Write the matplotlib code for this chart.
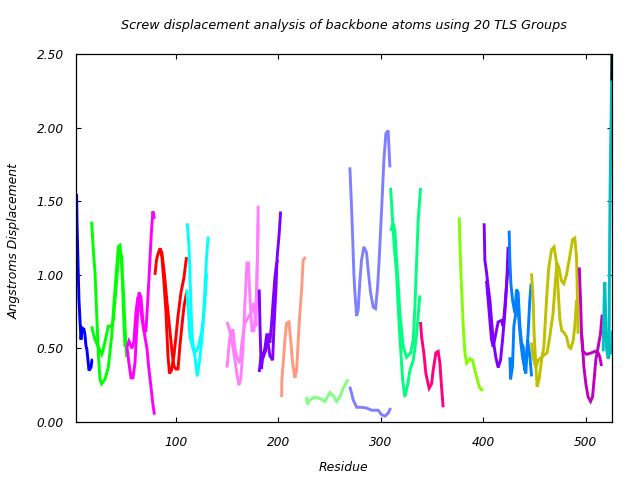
import matplotlib
matplotlib.use("Agg")
import matplotlib.pyplot as plt

# residue / displacement traces, one list pair per strand
blue_res = [3, 3.4, 4.3, 5.3, 6.3, 7.3, 8.2, 10.2, 11.2, 12.1, 13.1, 15.1, 17, 18, 19]
blue_val = [1.55, 1.36, 1.10, 0.83, 0.69, 0.56, 0.64, 0.63, 0.59, 0.52, 0.49, 0.35, 0.37, 0.42, 0.42]

green_res_a = [17.7, 19.3, 21.0, 22.6, 24.2, 25.8, 27.5, 30.7, 33.9, 37.2, 40.5, 43.7, 45.3, 47.0, 48.6, 50.2, 51.9]
green_val_a = [1.36, 1.17, 1.01, 0.74, 0.47, 0.29, 0.26, 0.29, 0.37, 0.58, 0.90, 1.19, 1.20, 1.08, 0.90, 0.65, 0.44]
green_res_b = [17.7, 19.3, 21.0, 24.2, 27.5, 29.0, 32.4, 33.9, 37.2, 38.8, 42.1, 44.7, 47.0, 48.6, 50.2]
green_val_b = [0.65, 0.60, 0.56, 0.51, 0.46, 0.49, 0.60, 0.65, 0.65, 0.69, 0.96, 1.19, 1.12, 0.78, 0.51]

magenta_res_a = [52.2, 54.1, 56.1, 58.0, 60.0, 61.9, 63.9, 65.8, 67.8, 69.7, 71.7, 73.6, 75.6, 77.5, 79.0]
magenta_val_a = [0.51, 0.40, 0.30, 0.30, 0.40, 0.65, 0.88, 0.85, 0.68, 0.58, 0.50, 0.36, 0.24, 0.12, 0.05]
magenta_res_b = [52.2, 54.1, 57.0, 59.0, 61.0, 62.9, 64.9, 66.8, 68.8, 70.7, 72.7, 74.6, 76.1, 77.5, 79.0]
magenta_val_b = [0.51, 0.55, 0.50, 0.55, 0.75, 0.85, 0.82, 0.70, 0.62, 0.62, 0.85, 1.10, 1.30, 1.43, 1.38]

red_res_a = [79.5, 81.0, 82.4, 84.4, 86.3, 88.3, 90.2, 92.2, 93.7, 95.6, 98.0, 100, 102, 104.9, 107.8, 110.3]
red_val_a = [1.00, 1.10, 1.14, 1.18, 1.12, 0.95, 0.75, 0.45, 0.33, 0.35, 0.45, 0.58, 0.72, 0.88, 0.98, 1.12]
red_res_b = [84.4, 86.3, 88.8, 91.2, 94.1, 96.1, 98.0, 100, 102, 103.9, 105.9, 107.8, 110.3]
red_val_b = [1.18, 1.15, 1.00, 0.82, 0.62, 0.48, 0.38, 0.36, 0.36, 0.52, 0.66, 0.78, 0.88]

cyan_res_a = [111.0, 112.7, 113.7, 114.6, 115.6, 117.1, 119.0, 120.8, 122.7, 125.1, 126.6, 128.3, 129.9, 131.5]
cyan_val_a = [1.35, 1.20, 1.00, 0.80, 0.60, 0.50, 0.42, 0.31, 0.40, 0.55, 0.67, 0.90, 1.12, 1.26]
cyan_res_b = [110.4, 112.0, 113.7, 116.9, 119.5, 121.8, 125.1, 128.3, 129.9]
cyan_val_b = [0.90, 0.76, 0.58, 0.49, 0.48, 0.51, 0.61, 0.81, 1.01]

pink_res_a = [149.8, 151.7, 153.7, 155.6, 157.6, 159.5, 161.5, 163.4, 165.4, 167.3, 169.3, 170.8, 172.2,
              174.2, 176.1, 178.1, 179.5, 180.3]
pink_val_a = [0.68, 0.64, 0.58, 0.51, 0.42, 0.33, 0.25, 0.30, 0.50, 0.80, 1.08, 1.08, 0.85,
              0.62, 0.62, 0.75, 1.10, 1.47]
pink_res_b = [149.8, 152.7, 155.6, 157.6, 159.5, 162.5, 164.4, 167.3, 170.3, 173.2, 176.1, 178.1, 180.3]
pink_val_b = [0.37, 0.58, 0.63, 0.50, 0.44, 0.40, 0.54, 0.67, 0.71, 0.74, 0.81, 0.65, 1.35]

purple_res_a = [181.3, 182.0, 182.7, 183.4, 184.9, 186.8, 188.8, 190.3, 191.7, 194.4, 195.6, 197.6, 198.8, 200.8, 202.2]
purple_val_a = [0.90, 0.67, 0.49, 0.36, 0.45, 0.50, 0.60, 0.52, 0.45, 0.42, 0.63, 0.90, 1.12, 1.28, 1.43]
purple_res_b = [181.3, 183.0, 185.2, 187.8, 190.1, 191.7, 193.4, 195.0, 196.6, 198.3, 199.5]
purple_val_b = [0.34, 0.44, 0.44, 0.49, 0.60, 0.54, 0.67, 0.83, 0.98, 1.08, 1.10]

salmon_res = [203.2, 203.4, 204.7, 206.4, 208.0, 210.3, 212.0, 213.9, 216.1, 217.8, 220.3, 222.7, 224.2, 226.6]
salmon_val = [0.17, 0.29, 0.40, 0.56, 0.67, 0.68, 0.56, 0.40, 0.30, 0.35, 0.67, 0.90, 1.10, 1.12]

lgreen_res = [227.6, 228.2, 230.8, 235.7, 240.5, 245.4, 250.3, 253.5, 256.8, 260.1, 263.3, 268.2]
lgreen_val = [0.17, 0.12, 0.15, 0.17, 0.16, 0.14, 0.20, 0.18, 0.14, 0.17, 0.23, 0.29]

peri_res_a = [269.8, 271.5, 272.5, 273.7, 274.7, 276.4, 277.9, 279.6, 281.2, 283.5, 286.1, 287.7, 290.0,
              292.6, 294.9, 296.9, 298.4, 299.8, 301.4, 303.0, 305.0, 307.2, 308.2, 308.9]
peri_val_a = [1.73, 1.45, 1.26, 1.01, 0.88, 0.72, 0.76, 0.96, 1.10, 1.19, 1.15, 1.03, 0.88,
              0.78, 0.77, 0.92, 1.10, 1.30, 1.53, 1.78, 1.96, 1.98, 1.83, 1.73]
peri_res_b = [269.8, 273.1, 276.4, 281.2, 286.1, 291.0, 297.4, 300.8, 304.0, 307.2, 309.6]
peri_val_b = [0.24, 0.15, 0.10, 0.10, 0.095, 0.08, 0.08, 0.05, 0.04, 0.06, 0.095]

spring_res_a = [309.6, 311.5, 313.1, 315.4, 317.0, 318.6, 321.3, 323.5, 325.8, 328.4, 331.7, 333.3, 335.0, 336.5, 338.1]
spring_val_a = [1.59, 1.37, 1.19, 1.01, 0.78, 0.58, 0.29, 0.17, 0.24, 0.35, 0.42, 0.50, 0.60, 0.72, 0.86]
spring_res_b = [309.6, 312.1, 313.8, 315.4, 317.0, 318.6, 321.9, 325.2, 329.1, 331.7, 333.3, 335.0, 336.5, 338.8]
spring_val_b = [1.30, 1.35, 1.30, 1.10, 0.94, 0.74, 0.51, 0.44, 0.47, 0.56, 0.78, 1.10, 1.37, 1.59]

dpink_res = [338.8, 339.8, 342.0, 344.0, 347.2, 349.6, 351.1, 353.8, 356.0, 357.7, 359.3, 360.9]
dpink_val = [0.68, 0.58, 0.47, 0.33, 0.23, 0.26, 0.35, 0.47, 0.48, 0.40, 0.24, 0.10]

chart_res = [376.6, 377.2, 378.2, 379.5, 380.5, 382.1, 383.8, 387.0, 389.6, 391.9, 394.2, 396.1, 398.0, 400.0]
chart_val = [1.39, 1.22, 1.01, 0.81, 0.65, 0.47, 0.40, 0.43, 0.42, 0.35, 0.29, 0.24, 0.22, 0.22]

violet_res_a = [400.9, 401.6, 403.2, 404.8, 406.5, 408.1, 409.7, 412.3, 414.6, 416.9, 418.9, 421.1, 422.8, 424.3]
violet_val_a = [1.35, 1.10, 1.02, 0.92, 0.83, 0.69, 0.56, 0.44, 0.37, 0.42, 0.56, 0.74, 0.92, 1.19]
violet_res_b = [403.2, 404.8, 406.5, 408.1, 409.7, 412.3, 414.6, 417.9, 419.5, 421.1, 422.8, 424.3]
violet_val_b = [0.96, 0.83, 0.69, 0.56, 0.51, 0.60, 0.68, 0.69, 0.65, 0.78, 0.94, 1.05]

azure_res_a = [425.3, 426.0, 427.0, 428.6, 430.9, 432.5, 434.1, 435.8, 437.4, 439.0, 440.6, 442.3, 443.8, 445.5, 446.8]
azure_val_a = [1.30, 1.10, 0.94, 0.83, 0.74, 0.90, 0.88, 0.65, 0.54, 0.51, 0.35, 0.44, 0.60, 0.83, 0.94]
azure_res_b = [426.0, 426.7, 428.6, 429.9, 431.8, 433.1, 435.1, 436.7, 438.4, 440.0, 441.6, 443.3, 445.5, 447.2]
azure_val_b = [0.44, 0.29, 0.38, 0.65, 0.74, 0.83, 0.67, 0.54, 0.44, 0.38, 0.33, 0.56, 0.45, 0.31]

olive_res_a = [447.2, 448.7, 449.7, 451.1, 452.6, 454.6, 456.9, 459.2, 461.8, 464.0, 466.7, 469.2, 471.6,
               473.1, 474.8, 476.7, 478.7, 481.3, 483.6, 485.5, 487.8, 489.4, 491.1]
olive_val_a = [1.01, 0.83, 0.60, 0.42, 0.24, 0.29, 0.42, 0.51, 0.83, 1.05, 1.17, 1.19, 1.08,
               0.90, 0.70, 0.62, 0.61, 0.58, 0.51, 0.50, 0.55, 0.65, 0.83]
olive_res_b = [447.2, 448.7, 451.4, 453.6, 456.9, 460.1, 462.4, 465.0, 468.2, 470.4, 471.9, 473.8, 476.4,
               478.7, 481.3, 483.9, 487.2, 489.4, 491.1, 492.0, 492.6]
olive_val_b = [0.54, 0.44, 0.37, 0.42, 0.44, 0.46, 0.47, 0.58, 0.74, 0.95, 1.08, 1.05, 0.96,
               0.94, 1.00, 1.10, 1.24, 1.25, 1.12, 0.83, 0.60]

dmag_res_a = [493.8, 495.0, 496.0, 497.2, 500.9, 505.7, 509.0, 512.2, 513.9, 515.5]
dmag_val_a = [1.05, 0.83, 0.60, 0.48, 0.46, 0.47, 0.48, 0.47, 0.44, 0.38]
dmag_res_b = [496.0, 497.2, 498.2, 500.2, 502.4, 504.8, 506.7, 508.3, 509.9, 512.2, 514.5, 516.1]
dmag_val_b = [0.60, 0.50, 0.38, 0.26, 0.17, 0.14, 0.17, 0.29, 0.42, 0.51, 0.60, 0.73]

dcyan_res_a = [517.1, 518.0, 518.7, 519.7, 520.4, 521.9, 522.9, 523.1, 523.4, 523.9, 524.6, 525.3, 526.1]
dcyan_val_a = [0.48, 0.80, 0.95, 0.70, 0.50, 0.43, 0.45, 0.80, 1.20, 1.60, 1.95, 2.31, 2.60]
dcyan_res_b = [524.6, 525.3, 526.0]
dcyan_val_b = [0.46, 0.50, 0.62]

black_res = [525.6, 526.0]
black_val = [2.32, 2.70]

strands = [
    (blue_res, blue_val, "#0000ff"),
    (green_res_a, green_val_a, "#00ff00"), (green_res_b, green_val_b, "#00ff00"),
    (magenta_res_a, magenta_val_a, "#ff00ff"), (magenta_res_b, magenta_val_b, "#ff00ff"),
    (red_res_a, red_val_a, "#ff0000"), (red_res_b, red_val_b, "#ff0000"),
    (cyan_res_a, cyan_val_a, "#00ffff"), (cyan_res_b, cyan_val_b, "#00ffff"),
    (pink_res_a, pink_val_a, "#ff80ff"), (pink_res_b, pink_val_b, "#ff80ff"),
    (purple_res_a, purple_val_a, "#8000ff"), (purple_res_b, purple_val_b, "#8000ff"),
    (salmon_res, salmon_val, "#ff9980"),
    (lgreen_res, lgreen_val, "#80ff80"),
    (peri_res_a, peri_val_a, "#8080ff"), (peri_res_b, peri_val_b, "#8080ff"),
    (spring_res_a, spring_val_a, "#00ff80"), (spring_res_b, spring_val_b, "#00ff80"),
    (dpink_res, dpink_val, "#ff0080"),
    (chart_res, chart_val, "#80ff00"),
    (violet_res_a, violet_val_a, "#8000ff"), (violet_res_b, violet_val_b, "#8000ff"),
    (azure_res_a, azure_val_a, "#0080ff"), (azure_res_b, azure_val_b, "#0080ff"),
    (olive_res_a, olive_val_a, "#c0c000"), (olive_res_b, olive_val_b, "#c0c000"),
    (dmag_res_a, dmag_val_a, "#c000c0"), (dmag_res_b, dmag_val_b, "#c000c0"),
    (dcyan_res_a, dcyan_val_a, "#00c0c0"), (dcyan_res_b, dcyan_val_b, "#00c0c0"),
    (black_res, black_val, "#000000"),
]

x_ticks = [100, 200, 300, 400, 500]
y_ticks = [0.0, 0.5, 1.0, 1.5, 2.0, 2.5]

fig = plt.figure(figsize=(6.4, 4.8), dpi=100)
ax = fig.add_axes([0.1192, 0.1208, 0.8378, 0.7667])

for xs, ys, c in strands:
    ax.plot(xs, ys, color=c, lw=2.1, solid_joinstyle="miter", solid_capstyle="butt")

ax.set_xlim(2.7, 526.2)
ax.set_ylim(0, 2.5)
ax.set_xticks(x_ticks)
ax.set_xticklabels([str(t) for t in x_ticks])
ax.set_yticks(y_ticks)
ax.set_yticklabels(["%.2f" % t for t in y_ticks])

ax.tick_params(direction="in", top=True, right=True, length=3.3, width=0.8,
               labelsize=8.7)
ax.tick_params(axis="x", pad=10)
ax.tick_params(axis="y", pad=9)
for lab in ax.get_xticklabels() + ax.get_yticklabels():
    lab.set_fontstyle("italic")
for sp in ax.spines.values():
    sp.set_linewidth(0.9)

fig.text(0.537, 0.946, "Screw displacement analysis of backbone atoms using 20 TLS Groups",
         ha="center", va="center", fontsize=9.2, style="italic")
fig.text(0.537, 0.027, "Residue", ha="center", va="center", fontsize=8.9, style="italic")
fig.text(0.022, 0.497, "Angstroms Displacement", ha="center", va="center", rotation=90,
         fontsize=8.9, style="italic")

fig.savefig("out.png", dpi=100)
